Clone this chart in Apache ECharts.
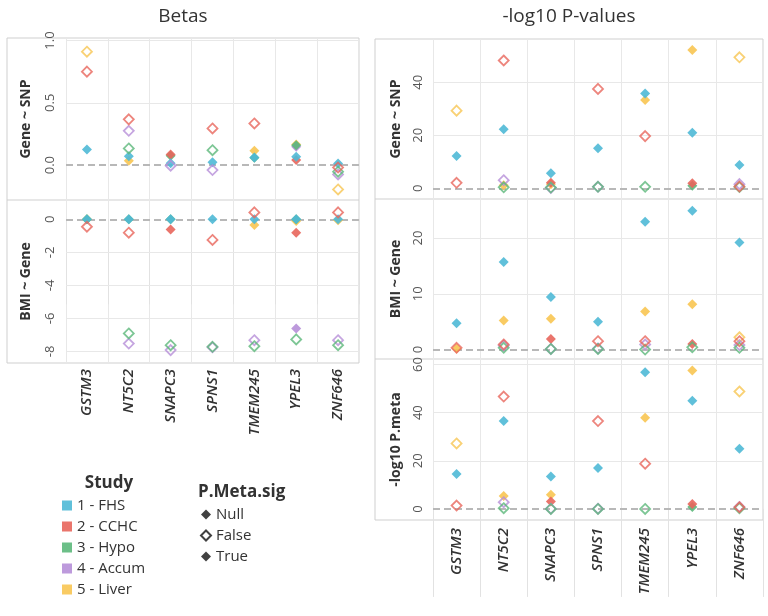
<!DOCTYPE html>
<html>
<head>
<meta charset="utf-8">
<script src="https://cdn.jsdelivr.net/npm/echarts@6/dist/echarts.min.js"></script>
<style>
html, body { margin: 0; padding: 0; background: #fff; }
#chart { width: 768px; height: 616px; }
</style>
</head>
<body>
<div id="chart"></div>
<script>
var genes = ['GSTM3', 'NT5C2', 'SNAPC3', 'SPNS1', 'TMEM245', 'YPEL3', 'ZNF646'];
var studies = ['1 - FHS', '2 - CCHC', '3 - Hypo', '4 - Accum', '5 - Liver'];
var studyColors = ['#4fb9d6', '#e8665c', '#5cb87b', '#b68fd8', '#f8c552'];
var sigLevels = ['Null', 'False', 'True'];

// rows = studies (FHS, CCHC, Hypo, Accum, Liver), columns = genes
// filled = P.Meta.sig Null/True, hollow = False
var betaSnpFilled = [
    [0.126, 0.072, 0.015, 0.022, 0.062, 0.067, 0.013],
    [null, null, 0.085, null, null, 0.04, null],
    [null, null, 0.075, null, 0.06, 0.16, null],
    [null, null, null, null, null, 0.147, null],
    [null, 0.035, null, null, 0.115, 0.165, null]
];
var betaSnpHollow = [
    [null, null, null, null, null, null, null],
    [0.75, 0.367, null, 0.294, 0.334, null, -0.02],
    [null, 0.134, null, 0.12, null, null, -0.053],
    [null, 0.275, -0.005, -0.04, null, null, -0.075],
    [0.91, null, null, null, null, null, -0.195]
];
var betaBmiFilled = [
    [0, 0, 0, 0, 0, 0, 0],
    [null, null, -0.61, null, null, -0.81, null],
    [0, 0, 0, null, null, 0, null],
    [null, null, null, null, null, -6.61, null],
    [0, null, null, null, -0.35, -0.1, -0.05]
];
var betaBmiHollow = [
    [null, null, null, null, null, null, null],
    [-0.45, -0.81, null, -1.25, 0.42, null, 0.42],
    [null, -6.91, -7.62, -7.72, -7.68, -7.27, -7.62],
    [null, -7.52, -7.92, -7.75, -7.32, null, -7.32],
    [null, null, null, null, null, null, null]
];
var pSnpFilled = [
    [12.2, 22.3, 5.7, 15.1, 35.8, 21.0, 8.8],
    [null, null, 2.1, null, null, 1.9, null],
    [null, null, null, null, null, 1.0, null],
    [null, null, null, null, null, null, null],
    [null, 1.2, 1.6, null, 33.3, 52.2, null]
];
var pSnpHollow = [
    [null, null, null, null, null, null, null],
    [2.1, 48.2, null, 37.5, 19.7, null, 0.7],
    [null, 0.4, 0.3, 0.6, 0.6, null, 0.5],
    [null, 3.1, 0.2, 0.6, null, null, 1.6],
    [29.3, null, null, null, null, null, 49.4]
];
var pBmiFilled = [
    [4.7, 15.7, 9.4, 5.0, 22.9, 24.9, 19.2],
    [null, null, 1.9, null, null, 1.0, null],
    [null, null, null, null, null, null, null],
    [null, null, null, null, null, null, null],
    [0.2, 5.2, 5.5, null, 6.8, 8.1, null]
];
var pBmiHollow = [
    [null, null, null, null, null, null, null],
    [0.3, 0.9, null, 1.5, 1.5, null, 1.5],
    [null, 0.3, 0.1, 0.1, 0.0, 0.4, 0.3],
    [null, 0.7, 0.1, 0.2, 0.9, null, 0.8],
    [null, null, null, null, null, null, 2.2]
];
var pMetaFilled = [
    [14.5, 36.5, 13.5, 17.0, 56.8, 44.9, 25.0],
    [null, null, 3.1, null, null, 2.0, null],
    [null, null, null, null, null, 0.8, null],
    [null, null, null, null, null, null, null],
    [null, 5.4, 5.9, null, 37.9, 57.5, null]
];
var pMetaHollow = [
    [null, null, null, null, null, null, null],
    [1.4, 46.7, null, 36.5, 18.8, null, 0.7],
    [null, 0.3, 0.0, 0.0, 0.0, null, 0.3],
    [null, 2.8, 0.1, 0.1, null, null, 0.8],
    [27.2, null, null, null, null, null, 48.8]
];

var betaSnpTicks = [0, 0.5, 1.0];
var betaBmiTicks = [0, -2, -4, -6, -8];
var pSnpTicks = [0, 20, 40];
var pBmiTicks = [0, 10, 20];
var pMetaTicks = [0, 20, 40, 60];

var panelNames = ['Gene ~ SNP', 'BMI ~ Gene', 'Gene ~ SNP', 'BMI ~ Gene', '-log10 P.meta'];
var panelFilled = [betaSnpFilled, betaBmiFilled, pSnpFilled, pBmiFilled, pMetaFilled];
var panelHollow = [betaSnpHollow, betaBmiHollow, pSnpHollow, pBmiHollow, pMetaHollow];
var panelTicks = [betaSnpTicks, betaBmiTicks, pSnpTicks, pBmiTicks, pMetaTicks];
var panelExtent = [[-0.28, 1.02], [-8.7, 1.17], [-4, 56.3], [-1.7, 27], [-4.6, 62.3]];

var chart = echarts.init(document.getElementById('chart'));
var font = '"Open Sans", "Noto Sans", sans-serif';
var frameColor = '#cfcfcf';
var gridColor = '#e8e8e8';

// panel boxes: [left, top, width, height, labelsBelow]
var boxes = [
    [66, 38, 293, 162, false],
    [66, 200, 293, 163, true],
    [433, 39, 330, 160, false],
    [433, 199, 330, 160, false],
    [433, 359, 330, 161, true]
];

var grids = [], xAxes = [], yAxes = [], series = [];

function toPoints(row) {
    var pts = [];
    for (var i = 0; i < row.length; i++) {
        if (row[i] !== null) pts.push([genes[i], row[i]]);
    }
    return pts;
}

var drawOrder = [4, 3, 2, 1, 0];

for (var p = 0; p < 5; p++) {
    var b = boxes[p];
    var isRight = p >= 2;
    grids.push({left: b[0], top: b[1], width: b[2], height: b[3]});
    xAxes.push({
        type: 'category',
        gridIndex: p,
        data: genes,
        boundaryGap: true,
        axisLine: {show: false},
        axisTick: {
            show: b[4],
            interval: 0,
            length: isRight ? 88 : 85,
            lineStyle: {color: '#e2e2e2'}
        },
        axisLabel: {
            show: b[4],
            interval: 0,
            rotate: 90,
            margin: isRight ? 8 : 6,
            fontFamily: font,
            fontSize: 15,
            fontStyle: 'italic',
            fontWeight: 600,
            color: '#333'
        },
        splitLine: {show: true, interval: 0, lineStyle: {color: gridColor}}
    });
    yAxes.push({
        type: 'value',
        gridIndex: p,
        min: panelExtent[p][0],
        max: panelExtent[p][1],
        name: panelNames[p],
        nameLocation: 'middle',
        nameRotate: 90,
        nameGap: isRight ? 30 : 33,
        nameTextStyle: {fontFamily: font, fontSize: 14, fontWeight: 'bold', color: '#333'},
        axisLine: {show: false},
        axisTick: {show: false},
        splitLine: {show: false},
        axisLabel: {
            customValues: panelTicks[p],
            rotate: 90,
            margin: isRight ? 8 : 9,
            fontFamily: font,
            fontSize: 13,
            color: '#555',
            formatter: p === 0 ? function (v) { return v.toFixed(1); } : function (v) { return String(v); }
        }
    });

    // horizontal gridlines + dashed zero line
    series.push({
        type: 'scatter',
        xAxisIndex: p,
        yAxisIndex: p,
        data: [],
        silent: true,
        markLine: {
            silent: true,
            symbol: 'none',
            z: 1,
            label: {show: false},
            data: panelTicks[p].map(function (t) {
                return {
                    yAxis: t,
                    lineStyle: t === 0
                        ? {color: '#b8b8b8', width: 2.2, type: [7, 4]}
                        : {color: gridColor, width: 1, type: 'solid'}
                };
            })
        }
    });

    drawOrder.forEach(function (s) {
        series.push({
            name: studies[s],
            type: 'scatter',
            xAxisIndex: p,
            yAxisIndex: p,
            symbol: 'diamond',
            symbolSize: 10,
            z: 3,
            itemStyle: {color: studyColors[s], opacity: 0.9},
            data: toPoints(panelFilled[p][s])
        });
    });
    drawOrder.forEach(function (s) {
        series.push({
            name: studies[s],
            type: 'scatter',
            xAxisIndex: p,
            yAxisIndex: p,
            symbol: 'diamond',
            symbolSize: 10,
            z: 4,
            itemStyle: {color: 'rgba(255,255,255,0)', borderColor: studyColors[s], borderWidth: 1.8},
            data: toPoints(panelHollow[p][s])
        });
    });
}

// legend-only entries for the shape key
sigLevels.forEach(function (lvl) {
    series.push({
        name: lvl,
        type: 'scatter',
        xAxisIndex: 0,
        yAxisIndex: 0,
        symbol: 'diamond',
        itemStyle: {color: '#111'},
        data: []
    });
});

function line(x1, y1, x2, y2) {
    return {type: 'line', silent: true, shape: {x1: x1, y1: y1, x2: x2, y2: y2},
        style: {stroke: frameColor, lineWidth: 1}};
}
function label(x, y, text, size, weight, align) {
    return {type: 'text', silent: true, x: x, y: y,
        style: {text: text, font: weight + ' ' + size + 'px ' + font, fill: '#333',
            align: align, verticalAlign: 'middle'}};
}

var option = {
    animation: false,
    tooltip: {trigger: 'item'},
    grid: grids,
    xAxis: xAxes,
    yAxis: yAxes,
    legend: [
        {
            orient: 'vertical',
            left: 57,
            top: 493,
            icon: 'rect',
            itemWidth: 10,
            itemHeight: 10,
            itemGap: 6,
            textStyle: {fontFamily: font, fontSize: 15, color: '#333'},
            data: studies
        },
        {
            orient: 'vertical',
            left: 195,
            top: 502,
            itemWidth: 10,
            itemHeight: 10,
            itemGap: 6,
            textStyle: {fontFamily: font, fontSize: 15, color: '#333'},
            data: [
                {name: 'Null', icon: 'diamond'},
                {name: 'False', icon: 'emptyDiamond'},
                {name: 'True', icon: 'diamond'}
            ]
        }
    ],
    graphic: [
        {type: 'rect', silent: true, shape: {x: 7, y: 38, width: 352, height: 325},
            style: {fill: 'none', stroke: frameColor, lineWidth: 1}},
        line(7, 200, 359, 200),
        {type: 'rect', silent: true, shape: {x: 375, y: 39, width: 388, height: 481},
            style: {fill: 'none', stroke: frameColor, lineWidth: 1}},
        line(375, 199, 763, 199),
        line(375, 359, 763, 359),
        label(183, 17, 'Betas', 19, 'normal', 'center'),
        label(569, 17, '-log10 P-values', 19, 'normal', 'center'),
        label(109, 483, 'Study', 17, 'bold', 'center'),
        label(198, 492, 'P.Meta.sig', 17, 'bold', 'left')
    ],
    series: series
};

chart.setOption(option);
window.addEventListener('resize', function () { chart.resize(); });
</script>
</body>
</html>
